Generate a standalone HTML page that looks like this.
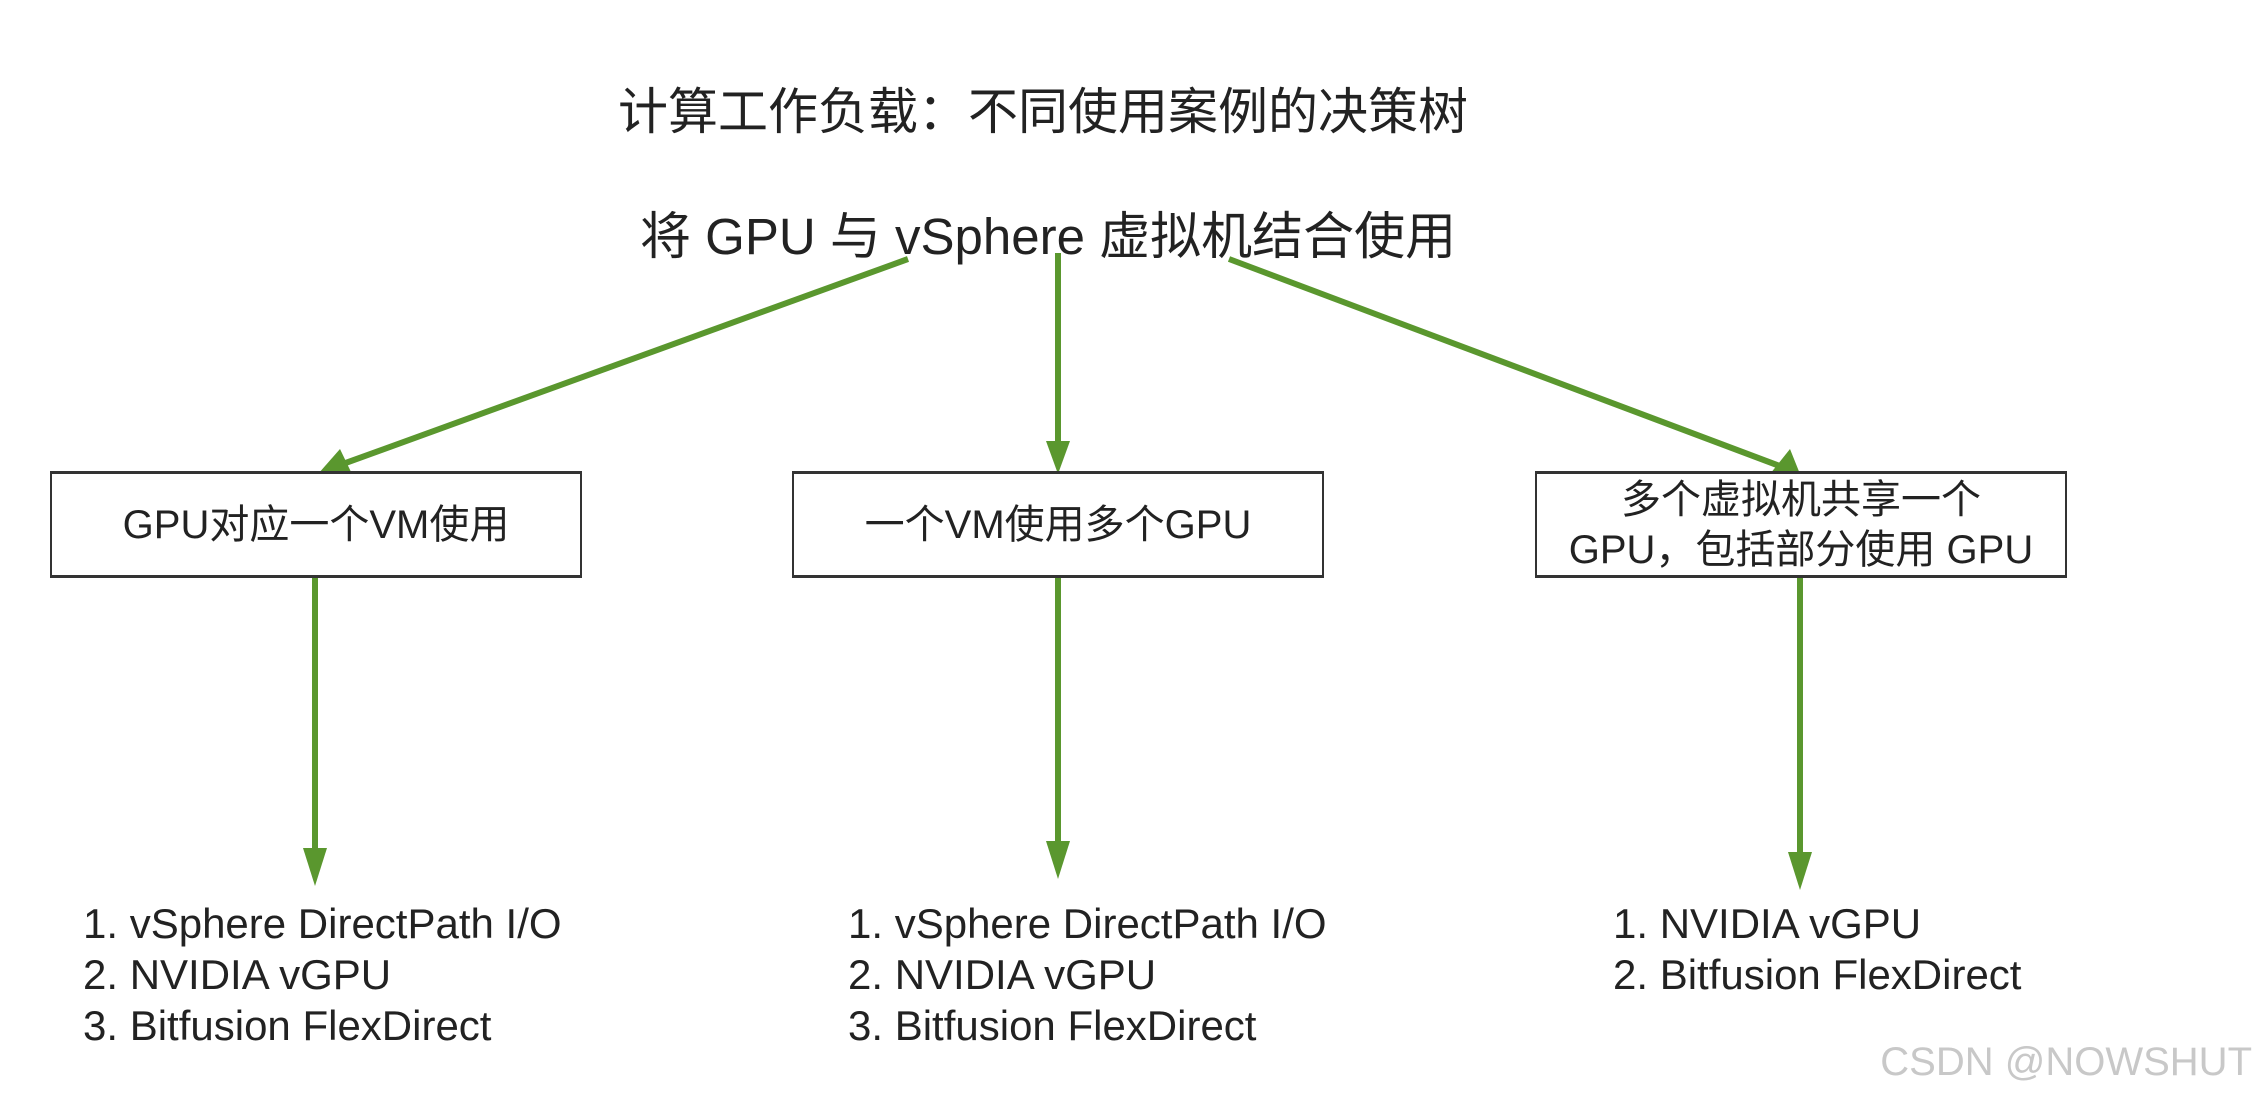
<!DOCTYPE html>
<html><head><meta charset="utf-8"><style>
body{margin:0;width:2254px;height:1103px;background:#fff;overflow:hidden;position:relative;font-family:"Liberation Sans","Noto Sans CJK SC",sans-serif;color:#222}
.t{position:absolute;white-space:nowrap}
.box{position:absolute;border:2px solid #333;border-top-width:3px;border-bottom-width:3px;display:flex;align-items:center;justify-content:center;text-align:center;font-size:40px;line-height:50px;box-sizing:border-box;background:#fff}
.l{position:absolute;font-size:42px;line-height:51px;white-space:nowrap}
</style></head><body>
<svg width="2254" height="1103" style="position:absolute;left:0;top:0">
<g stroke="#5a972e" stroke-width="6" fill="none">
<line x1="908" y1="259" x2="340" y2="465"/>
<line x1="1058" y1="253" x2="1058" y2="445"/>
<line x1="1229" y1="259" x2="1785" y2="468"/>
<line x1="315" y1="578" x2="315" y2="850"/>
<line x1="1058" y1="578" x2="1058" y2="843"/>
<line x1="1800" y1="578" x2="1800" y2="855"/>
</g>
<g fill="#5a972e">
<polygon points="318,474 340,449 352,474"/>
<polygon points="1046,441 1070,441 1058,474"/>
<polygon points="1770,474 1790,449 1800,474"/>
<polygon points="303,848 327,848 315,886"/>
<polygon points="1046,841 1070,841 1058,879"/>
<polygon points="1788,852 1812,852 1800,890"/>
</g>
</svg>
<div class="t" style="left:618px;top:72px;font-size:50px">计算工作负载：不同使用案例的决策树</div>
<div class="t" style="left:640px;top:195px;font-size:51px">将 GPU 与 vSphere 虚拟机结合使用</div>
<div class="box" style="left:50px;top:471px;width:532px;height:107px">GPU对应一个VM使用</div>
<div class="box" style="left:792px;top:471px;width:532px;height:107px">一个VM使用多个GPU</div>
<div class="box" style="left:1535px;top:471px;width:532px;height:107px">多个虚拟机共享一个<br>GPU，包括部分使用 GPU</div>
<div class="l" style="left:83px;top:898px">1. vSphere DirectPath I/O<br>2. NVIDIA vGPU<br>3. Bitfusion FlexDirect</div>
<div class="l" style="left:848px;top:898px">1. vSphere DirectPath I/O<br>2. NVIDIA vGPU<br>3. Bitfusion FlexDirect</div>
<div class="l" style="left:1613px;top:898px">1. NVIDIA vGPU<br>2. Bitfusion FlexDirect</div>
<div class="t" style="right:2px;top:1040px;font-size:40px;color:#c8c8c8">CSDN @NOWSHUT</div>
</body></html>
